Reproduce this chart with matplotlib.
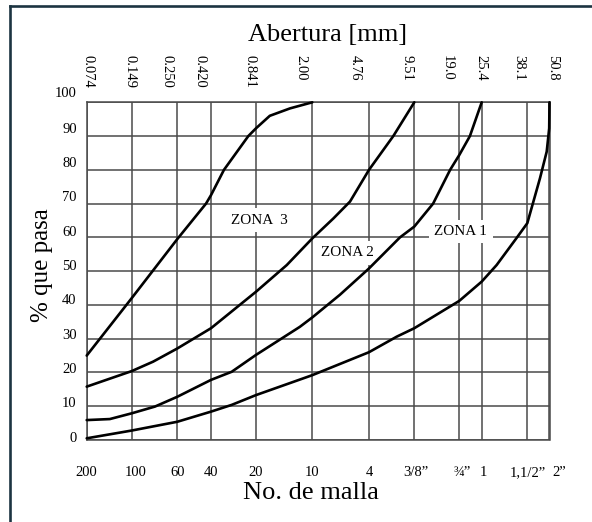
import numpy as np
import matplotlib
matplotlib.use('Agg')
import matplotlib.pyplot as plt
from matplotlib.lines import Line2D
from matplotlib.ticker import NullLocator

plt.rcParams['font.family'] = ['Liberation Serif', 'DejaVu Serif']

# ---------------- data ----------------
sieve_mm = [0.074, 0.149, 0.250, 0.420, 0.841, 2.00, 4.76, 9.51, 19.0, 25.4, 38.1, 50.8]
top_labels = ['0.074', '0.149', '0.250', '0.420', '0.841', '2.00', '4.76', '9.51',
              '19.0', '25.4', '38.1', '50.8']
mesh_labels = ['200', '100', '60', '40', '20', '10', '4', '3/8\u201d', '\u00be\u201d', '1',
               '1,1/2\u201d', '2\u201d']
pct_ticks = [0, 10, 20, 30, 40, 50, 60, 70, 80, 90, 100]

# upper limit of ZONA 3
curve_a_x = [0.074, 0.149, 0.250, 0.389, 0.420, 0.513, 0.747, 0.841, 1.04, 1.42, 2.00]
curve_a_y = [25.0, 42.0, 59.5, 70.0, 72.5, 80.0, 90.0, 92.3, 96.0, 98.2, 100.0]

# limit between ZONA 3 and ZONA 2
curve_b_x = [0.074, 0.149, 0.190, 0.250, 0.420, 0.841, 1.35, 2.00, 2.76, 3.56, 4.76, 6.90, 9.51]
curve_b_y = [15.8, 20.4, 23.2, 27.1, 33.1, 43.9, 51.8, 59.7, 65.6, 70.6, 80.0, 90.0, 100.0]

# limit between ZONA 2 and ZONA 1
curve_c_x = [0.074, 0.106, 0.149, 0.194, 0.250, 0.420, 0.578, 0.841, 1.65, 2.00, 3.05, 4.76,
             7.64, 9.51, 12.7, 16.5, 19.0, 21.8, 25.4]
curve_c_y = [5.9, 6.2, 7.9, 9.9, 12.8, 17.8, 20.2, 25.2, 33.5, 36.3, 43.0, 50.8,
             60.0, 63.2, 70.0, 80.0, 84.4, 90.0, 100.0]

# lower limit of ZONA 1
curve_d_x = [0.074, 0.149, 0.250, 0.420, 0.578, 0.841, 2.00, 4.76, 7.27, 9.51, 19.0, 25.4,
             29.0, 34.7, 38.1, 44.9, 49.0, 50.6, 50.8]
curve_d_y = [0.5, 2.8, 5.4, 8.4, 10.4, 13.3, 19.2, 26.0, 30.6, 33.1, 41.2, 46.9,
             51.8, 59.9, 64.2, 77.5, 85.4, 92.3, 100.0]

zone_names = ['ZONA  3', 'ZONA 2', 'ZONA 1']
zone_x = [0.88, 3.43, 19.4]
zone_y = [65.1, 55.4, 61.7]

# ---------------- layout ----------------
# hand-drawn sieve column positions of the original chart (relative units)
grid_pos = np.array([86.7, 131.7, 177.3, 211.0, 256.0, 312.3, 369.0, 414.3,
                     459.3, 481.7, 527.3, 549.5])
log_sieve = np.log10(sieve_mm)


def fwd(x):
    x = np.asarray(x, float)
    return np.interp(np.log10(np.clip(x, 1e-9, None)), log_sieve, grid_pos)


def inv(p):
    return 10 ** np.interp(np.asarray(p, float), grid_pos, log_sieve)


top_dx = [1, -2, -10, -11, -6, -11, -14, -7, -12, -1, -9, 3]
bot_dx = [0, 4, 0, 0, 0, 0, 0, 2, 3, 2, 1, 10]
left_dy = [1, 3, 3, 3, 4, 4.5, 5, 6.5, 6.5, 6.5, 9]

W, H = 592, 522
fig = plt.figure(figsize=(W / 100, H / 100), dpi=100)
ax = fig.add_axes([86.7 / W, 1 - 440 / H, (549.5 - 86.7) / W, (440 - 102.3) / H])
ax.set_xscale('function', functions=(fwd, inv))
ax.set_xlim(sieve_mm[0], sieve_mm[-1])
ax.set_ylim(0, 100)
ax.set_xticks(sieve_mm)
ax.set_yticks(pct_ticks)
ax.xaxis.set_minor_locator(NullLocator())
ax.yaxis.set_minor_locator(NullLocator())
ax.tick_params(length=0, labelbottom=False, labelleft=False)
grid_col = '#4a4a4a'
ax.set_axisbelow(True)
ax.grid(True, color=grid_col, lw=1.1)
for s in ax.spines.values():
    s.set_color(grid_col)
    s.set_linewidth(1.1)

for cx, cy in [(curve_a_x, curve_a_y), (curve_b_x, curve_b_y),
               (curve_c_x, curve_c_y), (curve_d_x, curve_d_y)]:
    ax.plot(cx, cy, color='black', lw=1.9, zorder=4, clip_on=False,
            solid_joinstyle='round', solid_capstyle='round')

for name, zx, zy in zip(zone_names, zone_x, zone_y):
    ax.text(zx, zy, name, ha='center', va='center', fontsize=11, zorder=3,
            bbox=dict(boxstyle='square,pad=0.35', fc='white', ec='none'))

for mm, lab, dx in zip(sieve_mm, top_labels, top_dx):
    ax.annotate(lab, xy=(mm, 1), xycoords=('data', 'axes fraction'),
                xytext=(dx, 47), textcoords='offset pixels', rotation=-90,
                ha='center', va='top', fontsize=10.5)

for mm, lab, dx in zip(sieve_mm, mesh_labels, bot_dx):
    ax.annotate(lab, xy=(mm, 0), xycoords=('data', 'axes fraction'),
                xytext=(dx, -33), textcoords='offset pixels',
                ha='center', va='center', fontsize=10.5)

for v, dy in zip(pct_ticks, left_dy):
    ax.annotate(str(v), xy=(0, v), xycoords=('axes fraction', 'data'),
                xytext=(-10, dy), textcoords='offset pixels',
                ha='right', va='center', fontsize=10.5)

fig.text(328 / W, 1 - 35 / H, 'Abertura [mm]', ha='center', va='center', fontsize=19)
fig.text(311 / W, 1 - 493 / H, 'No. de malla', ha='center', va='center', fontsize=19)
fig.text(42 / W, 1 - 265 / H, '% que pasa', ha='center', va='center',
         rotation=90, fontsize=18)

# outer frame (left and top edges visible in the original)
frame_col = '#1c3441'
fy = 1 - 5.5 / H
fx = 10 / W
fig.add_artist(Line2D([fx, fx], [0, fy], color=frame_col, lw=1.9,
                      transform=fig.transFigure, solid_capstyle='projecting'))
fig.add_artist(Line2D([fx, 1], [fy, fy], color=frame_col, lw=1.9,
                      transform=fig.transFigure, solid_capstyle='projecting'))

fig.savefig('out.png', dpi=100)
